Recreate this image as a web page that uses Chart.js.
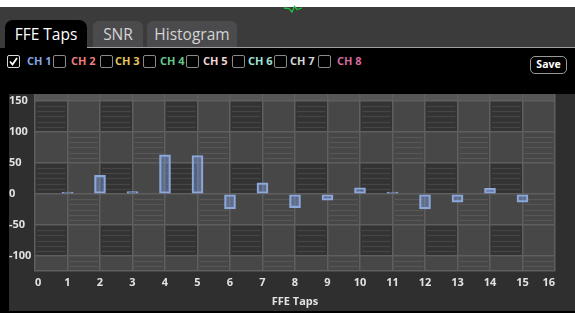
<!DOCTYPE html>
<html>
<head>
<meta charset="utf-8">
<script src="https://cdn.jsdelivr.net/npm/chart.js@4.4.1/dist/chart.umd.min.js"></script>
<style>
  html,body{margin:0;padding:0;width:575px;height:313px;overflow:hidden;background:#000;font-family:"Open Sans",sans-serif;}
  #whiteTop{position:absolute;left:0;top:0;width:575px;height:7px;background:#fff;}
  #tabbar{position:absolute;left:0;top:7px;width:575px;height:41px;background:#3b3b3b;}
  .tab{position:absolute;box-sizing:border-box;text-align:center;font-size:15.5px;}
  #t1{left:5px;top:20px;width:82px;height:28px;background:#000;color:#fff;border-radius:8px 8px 0 0;line-height:28px;}
  #t2{left:93px;top:21px;width:50px;height:26px;background:#4b4b4d;color:#d4d4d4;border-radius:6px 6px 0 0;line-height:26px;}
  #t3{left:147px;top:21px;width:90px;height:26px;background:#4b4b4d;color:#d4d4d4;border-radius:6px 6px 0 0;line-height:26px;}
  #sep{position:absolute;left:87px;top:46.5px;width:488px;height:1.5px;background:#a0a0a0;}
  .cb{position:absolute;top:55px;width:11px;height:11px;border:1px solid #8a8a8a;border-radius:2px;background:#000;}
  .cb.on{border-color:#d8d8d8;}
  .lab{position:absolute;top:53px;font-size:11px;font-weight:bold;line-height:15px;}
  #save{position:absolute;left:530px;top:56px;width:37px;height:18px;box-sizing:border-box;border:1.5px solid #9a9a9a;border-radius:5px;color:#fff;font-size:10.5px;font-weight:bold;text-align:center;line-height:15px;}
  #wrap{position:absolute;left:9px;top:94px;width:566px;height:217px;background:#2f2f2f;}
</style>
</head>
<body>
<div id="whiteTop"></div>
<div id="tabbar"></div>
<svg style="position:absolute;left:0;top:0" width="575" height="20"><polyline points="284,8 289,8.5 292,12 294.5,6.5 297,9.5 302,8" fill="none" stroke="#22c040" stroke-width="1.3"/></svg>
<div class="tab" id="t1">FFE Taps</div>
<div class="tab" id="t2">SNR</div>
<div class="tab" id="t3">Histogram</div>
<div id="sep"></div>
<div id="checks"></div>
<div id="save">Save</div>
<div id="wrap"><canvas id="c"></canvas></div>
<script>
// ---- data ----
const channelNames = ['CH 1','CH 2','CH 3','CH 4','CH 5','CH 6','CH 7','CH 8'];
const channelColors = ['#86a6e6','#ee7f7f','#e8c45c','#66c98c','#f2d6d6','#a2e0d8','#d6d6d6','#d66a9c'];
const channelChecked = [true,false,false,false,false,false,false,false];
const tapNumbers = [1,2,3,4,5,6,7,8,9,10,11,12,13,14,15];
const tapValues  = [3,30,4,63,62,-24,18,-22,-10,10,3,-24,-13,9,-13];
const xTickValues = [0,1,2,3,4,5,6,7,8,9,10,11,12,13,14,15,16];
const yTickValues = [-100,-50,0,50,100,150];
const yMin = -124, yMax = 161;
const xTitle = 'FFE Taps';

// ---- checkbox row ----
const cbX = [7,53,100,143,186,232,274,318];
const labX = [27,71,115,160,203,248,290,337];
const checks = document.getElementById('checks');
channelNames.forEach((n,i)=>{
  const b=document.createElement('div'); b.className='cb'+(channelChecked[i]?' on':''); b.style.left=cbX[i]+'px';
  if(channelChecked[i]) b.innerHTML='<svg width="11" height="11" style="position:absolute;left:0;top:0"><polyline points="2,5.5 4.5,8.5 9,2" fill="none" stroke="#fff" stroke-width="1.8"/></svg>';
  checks.appendChild(b);
  const l=document.createElement('div'); l.className='lab'; l.style.left=labX[i]+'px'; l.style.color=channelColors[i]; l.textContent=n;
  checks.appendChild(l);
});

// ---- background pattern plugin ----
const patternPlugin = {
  id:'pattern',
  beforeDraw(chart){
    const {ctx, chartArea:a, scales:{x,y}} = chart;
    ctx.save();
    ctx.beginPath(); ctx.rect(a.left,a.top,a.right-a.left,a.bottom-a.top); ctx.clip();
    const bounds=[yMin,...yTickValues,yMax];
    for(let r=0;r<bounds.length-1;r++){
      const lo=bounds[r], hi=bounds[r+1];
      const yTop=y.getPixelForValue(hi), yBot=y.getPixelForValue(lo);
      if(r===bounds.length-2){ ctx.fillStyle='#565656'; ctx.fillRect(a.left,yTop,a.right-a.left,yBot-yTop); continue; }
      const dark = (((Math.floor(lo/50))%2)+2)%2===0;
      for(let i=0;i<xTickValues.length-1;i++){
        const xl=x.getPixelForValue(xTickValues[i]), xr=x.getPixelForValue(xTickValues[i+1]);
        const colA = i%2===0;
        let fill='#474747', line=null;
        if(dark && colA){fill='#333333'; line='#454545';}
        else if(!dark && !colA){fill='#474747'; line='#575757';}
        ctx.fillStyle=fill; ctx.fillRect(xl,yTop,xr-xl,yBot-yTop);
        if(line){
          ctx.strokeStyle=line; ctx.lineWidth=1.2;
          const base=Math.floor(lo/50)*50;
          for(let k=1;k<6;k++){
            const v=base+k*50/6; if(v<=lo||v>=hi) continue;
            const py=Math.round(y.getPixelForValue(v))+0.5;
            ctx.beginPath(); ctx.moveTo(xl+2,py); ctx.lineTo(xr-2,py); ctx.stroke();
          }
        }
      }
    }
    ctx.restore();
  }
};

const font = {family:'"Open Sans", sans-serif', size:11, weight:'bold'};
new Chart(document.getElementById('c'),{
  type:'bar',
  data:{datasets:[{
    data: tapNumbers.map((t,i)=>({x:t,y:tapValues[i]})),
    backgroundColor:'rgba(128,162,228,0.42)',
    borderColor:'#8ea8da',
    borderWidth:1.5,
    barThickness:11,
    borderSkipped:false
  }]},
  options:{
    responsive:true, maintainAspectRatio:false, animation:false,
    layout:{padding:{left:0,right:20,top:0,bottom:0}},
    plugins:{legend:{display:false},tooltip:{enabled:false}},
    scales:{
      x:{type:'linear',min:0,max:16,offset:false,
        afterBuildTicks:s=>{s.ticks=xTickValues.map(v=>({value:v}));},
        afterFit:s=>{s.height=40; s.paddingLeft=0; s.paddingRight=0;},
        grid:{offset:false,color:'#5f5f5f',lineWidth:1.5,drawTicks:false},
        border:{color:'#5f5f5f',width:1.5},
        ticks:{color:'#e2e2e2',font,padding:5,align:'inner',maxRotation:0,autoSkip:false},
        title:{display:true,text:xTitle,color:'#e2e2e2',font,padding:{top:0,bottom:3}}
      },
      y:{min:yMin,max:yMax,
        afterBuildTicks:s=>{s.ticks=yTickValues.map(v=>({value:v}));},
        afterFit:s=>{s.width=26; s.paddingTop=0; s.paddingBottom=0;},
        grid:{color:'#5f5f5f',lineWidth:1.5,drawTicks:false},
        border:{display:false},
        ticks:{color:'#e2e2e2',font,crossAlign:'far',padding:0}
      }
    }
  },
  plugins:[patternPlugin]
});
</script>
</body>
</html>
